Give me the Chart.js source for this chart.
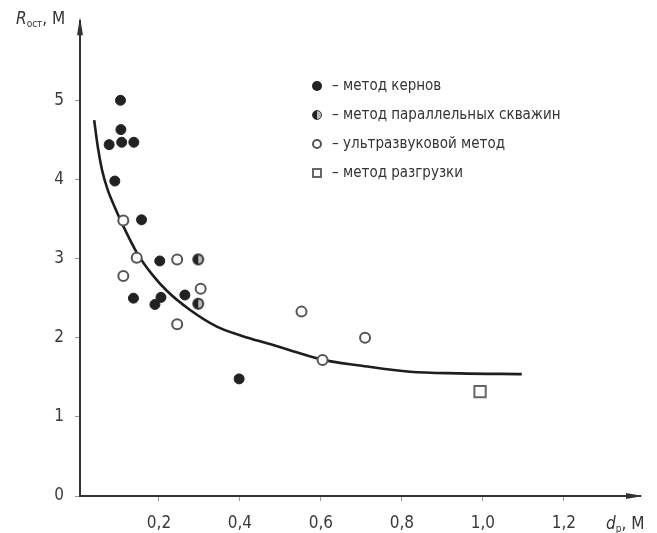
<!DOCTYPE html>
<html lang="ru">
<head>
<meta charset="utf-8">
<title>R ост от d р</title>
<script src="https://cdn.jsdelivr.net/npm/chart.js@4.4.1/dist/chart.umd.min.js"></script>
<style>
    body { margin: 0; background: #fff; }
    #wrap { position: relative; width: 657px; height: 533px; }
    .lbl { position: absolute; font-family: "Liberation Sans Narrow", "DejaVu Sans Condensed", sans-serif; color: #333; font-size: 17px; white-space: nowrap; }
    .lbl i { font-style: italic; }
    .lbl sub { font-size: 10px; vertical-align: -3px; }
    #legend { position: absolute; left: 312px; top: 72px; font-family: "Liberation Sans Narrow", "DejaVu Sans Condensed", sans-serif; font-size: 15px; color: #333; }
    #legend .row { height: 29px; line-height: 26px; white-space: nowrap; }
    #legend .mk { display: inline-block; width: 10px; height: 10px; margin-right: 10px; vertical-align: -1px; box-sizing: border-box; }
</style>
</head>
<body>
<div id="wrap">
    <canvas id="chart"></canvas>
    <div class="lbl" style="left:16px; top:8px;"><i>R</i><sub>ост</sub>, М</div>
    <div class="lbl" style="left:606px; top:513px;"><i>d</i><sub>р</sub>, М</div>
    <div id="legend">
        <div class="row"><span class="mk" style="border-radius:50%; background:#222;"></span>– метод кернов</div>
        <div class="row"><span class="mk" style="border-radius:50%; border:1.5px solid #333; background:linear-gradient(90deg, #222 55%, #bbb 55%);"></span>– метод параллельных скважин</div>
        <div class="row"><span class="mk" style="border-radius:50%; border:2px solid #555; background:#fff;"></span>– ультразвуковой метод</div>
        <div class="row"><span class="mk" style="border:2px solid #666; background:#fff;"></span>– метод разгрузки</div>
    </div>
</div>
<script>
// values (x = d_p, m ; y = R_ост, m)
const coreX = [0.105, 0.106, 0.077, 0.108, 0.138, 0.091, 0.157, 0.202, 0.137, 0.190, 0.205, 0.264, 0.398];
const coreY = [5.00, 4.63, 4.44, 4.47, 4.47, 3.98, 3.49, 2.97, 2.50, 2.42, 2.51, 2.54, 1.48];

const wellX = [0.297, 0.297];
const wellY = [2.99, 2.43];

const ultraX = [0.112, 0.145, 0.112, 0.245, 0.303, 0.245, 0.552, 0.709, 0.604];
const ultraY = [3.48, 3.01, 2.78, 2.99, 2.62, 2.17, 2.33, 2.00, 1.72];

const unloadX = [0.993];
const unloadY = [1.32];

const curveX = [0.040, 0.049, 0.059, 0.072, 0.089, 0.111, 0.146, 0.183, 0.220, 0.277, 0.343, 0.407, 0.474, 0.531, 0.605, 0.696, 0.820, 0.943, 1.096];
const curveY = [4.75, 4.41, 4.13, 3.89, 3.67, 3.42, 3.07, 2.80, 2.59, 2.35, 2.14, 2.02, 1.92, 1.83, 1.72, 1.65, 1.57, 1.55, 1.54];

const xTicks = [0.2, 0.4, 0.6, 0.8, 1.0, 1.2];
const yTicks = [0, 1, 2, 3, 4, 5];

const toPoints = (xs, ys) => xs.map((x, i) => ({ x: x, y: ys[i] }));
const fontFamily = '"Liberation Sans Narrow", "DejaVu Sans Condensed", sans-serif';

// half filled circle marker
function halfCircle() {
    const c = document.createElement('canvas');
    c.width = 14; c.height = 14;
    const g = c.getContext('2d');
    g.beginPath(); g.arc(7, 7, 5, 0, Math.PI * 2); g.fillStyle = '#bbb'; g.fill();
    g.beginPath(); g.arc(7, 7, 5, Math.PI / 2, Math.PI * 1.5); g.fillStyle = '#222'; g.fill();
    g.beginPath(); g.arc(7, 7, 5, 0, Math.PI * 2); g.lineWidth = 1.8; g.strokeStyle = '#2a2a2a'; g.stroke();
    return c;
}

// small arrow heads at the axis ends
const arrows = {
    id: 'arrows',
    afterDraw(chart) {
        const ctx = chart.ctx, a = chart.chartArea;
        ctx.save();
        ctx.fillStyle = '#333';
        ctx.beginPath();
        ctx.moveTo(a.left, a.top - 4); ctx.lineTo(a.left - 3, a.top + 14); ctx.lineTo(a.left + 3, a.top + 14);
        ctx.fill();
        ctx.beginPath();
        ctx.moveTo(a.right + 3, a.bottom); ctx.lineTo(a.right - 14, a.bottom - 3); ctx.lineTo(a.right - 14, a.bottom + 3);
        ctx.fill();
        ctx.restore();
    }
};

new Chart(document.getElementById('chart'), {
    type: 'scatter',
    data: {
        datasets: [
            {
                label: 'curve',
                data: toPoints(curveX, curveY),
                showLine: true,
                borderColor: '#1e1e1e',
                borderWidth: 2.6,
                pointRadius: 0,
                cubicInterpolationMode: 'monotone',
                order: 5
            },
            {
                label: 'метод кернов',
                data: toPoints(coreX, coreY),
                pointStyle: 'circle',
                pointRadius: 5,
                backgroundColor: '#222',
                borderColor: '#222',
                borderWidth: 1
            },
            {
                label: 'метод параллельных скважин',
                data: toPoints(wellX, wellY),
                pointStyle: halfCircle()
            },
            {
                label: 'ультразвуковой метод',
                data: toPoints(ultraX, ultraY),
                pointStyle: 'circle',
                pointRadius: 5,
                backgroundColor: '#fff',
                borderColor: '#555',
                borderWidth: 2
            },
            {
                label: 'метод разгрузки',
                data: toPoints(unloadX, unloadY),
                pointStyle: 'rect',
                pointRadius: 8,
                backgroundColor: '#fff',
                borderColor: '#666',
                borderWidth: 2
            }
        ]
    },
    options: {
        responsive: true,
        maintainAspectRatio: false,
        animation: false,
        layout: { padding: { top: 12, right: 17, left: 0, bottom: 0 } },
        plugins: {
            legend: { display: false },
            tooltip: { enabled: false }
        },
        scales: {
            x: {
                type: 'linear',
                min: 0.005,
                max: 1.388,
                afterBuildTicks: s => { s.ticks = xTicks.map(v => ({ value: v })); },
                afterFit: s => { s.height = 37; },
                ticks: {
                    callback: v => v.toFixed(1).replace('.', ','),
                    font: { family: fontFamily, size: 17 },
                    color: '#3a3a3a',
                    padding: 12,
                    maxRotation: 0,
                    autoSkip: false
                },
                grid: { drawOnChartArea: false, drawTicks: true, tickLength: 5, color: '#999' },
                border: { color: '#333', width: 2 }
            },
            y: {
                type: 'linear',
                min: 0,
                max: 6,
                afterBuildTicks: s => { s.ticks = yTicks.map(v => ({ value: v })); },
                afterFit: s => { s.width = 80; },
                ticks: {
                    callback: v => String(v),
                    font: { family: fontFamily, size: 17 },
                    color: '#3a3a3a',
                    padding: 11
                },
                grid: { drawOnChartArea: false, drawTicks: true, tickLength: 5, color: '#999' },
                border: { color: '#333', width: 2 }
            }
        }
    },
    plugins: [arrows]
});
</script>
</body>
</html>
